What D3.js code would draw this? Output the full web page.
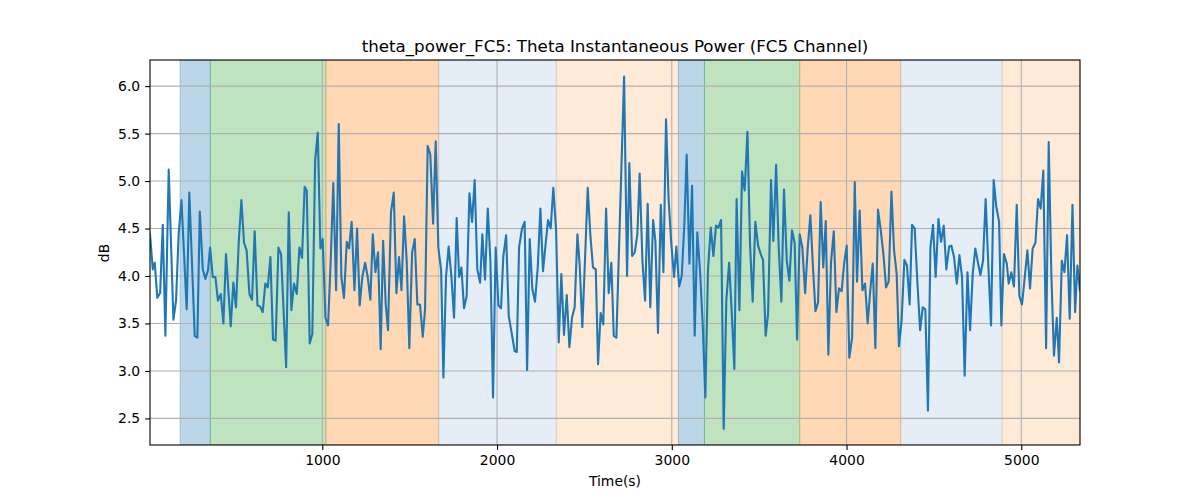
<!DOCTYPE html>
<html><head><meta charset="utf-8">
<script src="https://cdn.jsdelivr.net/npm/d3@7"></script>
<style>
body{margin:0;background:#fff;}
text{font-family:"DejaVu Sans",sans-serif;}
</style></head>
<body><svg id="chart" width="1200" height="500"></svg>
<script>
const times = [14,30,41,56,72,87,102,121,148,163,178,194,224,239,270,285,299,316,331,346,358,373,388,403,419,434,449,
476,491,506,522,537,552,567,583,598,613,629,644,659,674,688,703,718,733,749,764,793,808,823,838,854,869,884,899,
911,928,943,959,974,989,1002,1018,1033,1048,1063,1079,1094,1109,1124,1140,1153,1168,1184,1199,1214,1229,1245,1260,1275,1289,1304,1319,1334,1348,
1363,1376,1393,1409,1424,1439,1453,1468,1483,1498,1514,1529,1544,1559,1575,1588,1603,1618,1634,1649,1664,1680,1693,1708,1723,1739,1754,1769,1783,1796,
1811,1826,1842,1857,1872,1887,1903,1916,1931,1947,1962,1977,1992,2008,2023,2036,2052,2067,2101,2113,2126,2143,2158,2172,2187,2202,2217,2233,2248,
2263,2277,2292,2307,2322,2338,2353,2368,2383,2399,2414,2429,2444,2460,2473,2488,2504,2519,2534,2549,2565,2578,2593,2608,2624,2639,2654,2668,2683,
2727,2744,2757,2773,2788,2803,2816,2832,2847,2862,2877,2893,2906,2921,2937,2952,2967,2982,2998,3013,3026,3042,3057,3072,3085,3101,3116,3131,
3146,3162,3177,3192,3207,3223,3238,3253,3267,3282,3297,3312,3328,3343,3358,3371,3387,3402,3417,3433,3448,3463,3478,3494,3509,3522,3537,3551,3568,3581,
3597,3612,3627,3642,3658,3673,3688,3703,3717,3732,3747,3763,3778,3793,3808,3822,3837,3852,3867,3881,3896,3911,3927,3942,3957,3972,3986,4001,4016,
4032,4047,4060,4075,4091,4106,4121,4136,4150,4165,4180,4196,4211,4226,4241,4257,4272,4287,4300,4315,4331,4346,4361,4375,4390,4405,4421,4436,4451,4466,
4480,4495,4510,4526,4541,4556,4571,4587,4600,4615,4631,4646,4661,4676,4692,4707,4722,4737,4753,4766,4781,4796,4812,4827,4842,4857,4873,4886,4901,4917,
4928,4943,4958,4974,4989,5004,5020,5035,5050,5065,5081,5096,5111,5126,5142,5157,5172,5187,5203,5216,5232,5247,5262,5277,5293,5308,5321,5336];

const powerDb = [4.44,4.07,4.14,3.77,3.82,4.54,3.37,5.12,3.54,3.74,4.44,4.80,3.65,4.88,3.37,3.35,4.68,4.07,3.97,4.06,4.30,3.99,3.99,3.74,3.81,3.50,4.23,
3.47,3.93,3.67,4.36,4.80,4.35,4.27,3.81,3.75,4.47,3.69,3.68,3.62,3.92,3.88,4.20,3.33,3.32,4.30,4.23,3.04,4.67,3.64,3.92,3.81,4.30,4.19,4.94,
4.90,3.29,3.39,5.22,5.51,4.29,4.39,3.56,3.48,4.16,4.98,3.85,5.60,3.99,3.77,4.36,4.29,4.57,3.85,4.50,3.69,3.99,4.14,3.99,3.75,4.44,4.04,4.25,3.23,4.37,
3.70,3.43,4.67,4.88,3.82,4.20,3.85,4.63,4.16,3.24,4.25,4.39,3.70,3.70,3.36,3.65,5.37,5.28,4.55,5.42,4.30,4.06,2.93,3.99,4.31,3.99,3.56,4.61,3.99,4.09,
3.66,3.79,4.87,4.57,5.01,4.07,3.93,4.44,3.96,4.71,4.16,2.72,4.30,3.69,3.66,4.21,4.43,3.58,3.21,3.20,4.30,4.50,4.57,3.01,4.39,3.86,3.73,4.09,4.71,
4.05,4.32,4.59,4.50,4.93,4.48,3.30,4.02,3.38,3.80,3.25,3.56,3.67,4.44,4.11,3.46,4.20,4.93,4.43,4.09,4.07,3.07,3.61,3.49,4.71,3.82,4.14,3.37,3.35,
6.10,4.00,5.19,4.21,4.25,4.44,5.08,4.16,3.74,4.76,3.67,4.59,4.37,3.40,4.75,4.04,5.65,4.80,4.32,3.99,4.31,3.89,4.00,4.55,5.28,4.13,4.95,3.37,
4.46,4.04,3.49,2.72,4.06,4.51,4.21,4.53,4.51,4.59,2.39,3.74,4.14,3.62,3.02,4.81,3.64,5.10,4.90,5.52,4.32,3.73,4.57,4.32,4.23,4.17,3.37,3.60,5.01,4.37,
5.17,4.30,3.73,4.91,4.16,3.95,4.48,4.35,3.33,4.44,4.30,3.82,4.30,4.64,4.09,3.63,3.72,4.78,4.09,4.58,3.17,4.14,4.47,3.62,3.87,3.84,4.13,4.32,3.14,
3.35,4.99,3.94,4.69,3.85,3.92,3.50,3.85,4.13,3.24,4.70,4.48,4.23,3.88,3.94,4.89,4.27,4.02,3.26,3.53,4.17,4.11,3.70,4.54,4.50,3.95,3.43,3.67,3.65,2.58,
4.30,4.54,3.99,4.60,4.36,4.53,4.07,4.31,4.32,4.20,3.92,4.22,3.99,2.95,4.04,3.43,4.02,4.29,4.13,4.01,4.16,4.81,4.09,3.48,5.01,4.73,4.57,3.48,4.23,4.13,
3.92,4.04,3.89,4.75,3.79,3.70,3.99,4.27,3.87,4.29,4.35,4.81,4.71,5.11,3.24,5.41,4.02,3.16,3.56,3.09,4.16,4.04,4.43,3.55,4.75,3.62,4.11,3.85];

const bandStarts = [186, 359, 1021, 1666, 2339, 3038, 3187, 3732, 4310, 4890];
const bandEnds   = [359, 1021, 1666, 2339, 3038, 3187, 3732, 4310, 4890, 5336];
const bandKinds  = ["blue","green","orange","lightblue","lightorange","blue","green","orange","lightblue","lightorange"];

const xTicks = [1000, 2000, 3000, 4000, 5000];
const yTicks = [2.5, 3.0, 3.5, 4.0, 4.5, 5.0, 5.5, 6.0];

const titleText = "theta_power_FC5: Theta Instantaneous Power (FC5 Channel)";
const xLabel = "Time(s)";
const yLabel = "dB";

const bandStyle = {
  blue: {c:"#1f77b4", a:0.3},
  green: {c:"#2ca02c", a:0.3},
  orange: {c:"#ff7f0e", a:0.3},
  lightblue: {c:"#4a7fc8", a:0.14},
  lightorange: {c:"#ff7f0e", a:0.16}
};

const svg = d3.select("#chart");
const L = 150, R = 1080, T = 60, B = 445;
const x = d3.scaleLinear().domain([14, 5336]).range([L, R]);
const y = d3.scaleLinear().domain([2.22, 6.275]).range([B, T]);

const data = times.map((t, i) => ({t, v: powerDb[i]}));
const bands = bandStarts.map((s, i) => ({s, e: bandEnds[i], k: bandKinds[i]}));

svg.append("defs").append("clipPath").attr("id", "clip")
  .append("rect").attr("x", L).attr("y", T).attr("width", R - L).attr("height", B - T);

const plot = svg.append("g").attr("clip-path", "url(#clip)");

plot.selectAll("rect.band").data(bands).enter().append("rect")
  .attr("class", "band")
  .attr("x", d => x(d.s)).attr("y", T)
  .attr("width", d => x(d.e) - x(d.s)).attr("height", B - T)
  .attr("fill", d => bandStyle[d.k].c).attr("fill-opacity", d => bandStyle[d.k].a)
  .attr("stroke", d => bandStyle[d.k].c).attr("stroke-opacity", d => bandStyle[d.k].a)
  .attr("stroke-width", 1);

// grid
plot.selectAll("line.gx").data(xTicks).enter().append("line")
  .attr("x1", d => x(d)).attr("x2", d => x(d)).attr("y1", T).attr("y2", B)
  .attr("stroke", "#b0b0b0").attr("stroke-width", 1.1);
plot.selectAll("line.gy").data(yTicks).enter().append("line")
  .attr("y1", d => y(d)).attr("y2", d => y(d)).attr("x1", L).attr("x2", R)
  .attr("stroke", "#b0b0b0").attr("stroke-width", 1.1);

plot.append("path").datum(data)
  .attr("fill", "none").attr("stroke", "#1f77b4").attr("stroke-width", 2.1)
  .attr("stroke-linejoin", "round").attr("stroke-linecap", "square")
  .attr("d", d3.line().x(d => x(d.t)).y(d => y(d.v)));

// axes
const xAxis = svg.append("g").attr("transform", `translate(0,${B})`)
  .call(d3.axisBottom(x).tickValues(xTicks).tickFormat(d3.format("d")).tickSizeOuter(0).tickSize(4.9).tickPadding(4.9));
const yAxis = svg.append("g").attr("transform", `translate(${L},0)`)
  .call(d3.axisLeft(y).tickValues(yTicks).tickFormat(d3.format(".1f")).tickSizeOuter(0).tickSize(4.9).tickPadding(4.9));
[xAxis, yAxis].forEach(g => {
  g.select(".domain").remove();
  g.selectAll(".tick line").attr("stroke", "#000").attr("stroke-width", 1.1);
  g.selectAll(".tick text").attr("fill", "#000").style("font-size", "13.9px").style("font-family", "DejaVu Sans");
});

svg.append("rect").attr("x", L).attr("y", T).attr("width", R - L).attr("height", B - T)
  .attr("fill", "none").attr("stroke", "#000").attr("stroke-width", 1.1);

svg.append("text").attr("x", (L + R) / 2).attr("y", 52).attr("text-anchor", "middle")
  .style("font-size", "16.7px").text(titleText);
svg.append("text").attr("x", (L + R) / 2).attr("y", 486).attr("text-anchor", "middle")
  .style("font-size", "13.9px").text(xLabel);
svg.append("text").attr("transform", "translate(109,253) rotate(-90)").attr("text-anchor", "middle")
  .style("font-size", "13.9px").text(yLabel);
</script></body></html>
